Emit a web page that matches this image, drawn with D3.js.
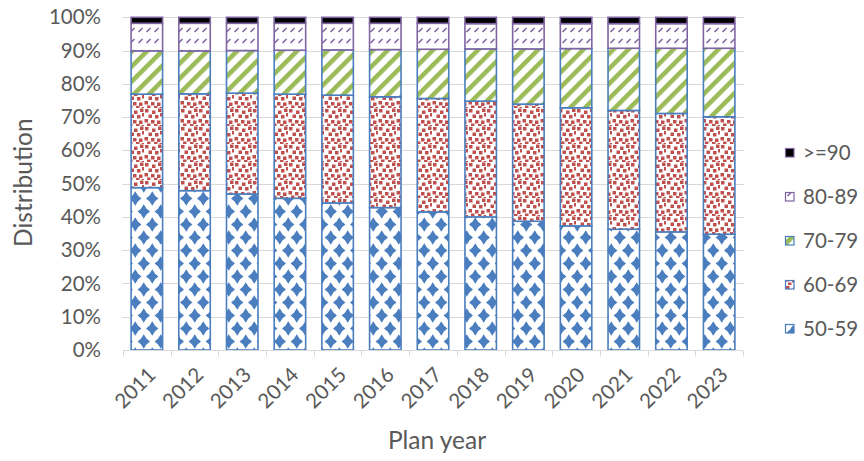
<!DOCTYPE html>
<html>
<head>
<meta charset="utf-8">
<script src="https://cdn.jsdelivr.net/npm/d3@7"></script>
<style>
  html, body { margin: 0; padding: 0; background: #fff; }
  svg { display: block; font-family: Lato, "Liberation Sans", sans-serif; }
</style>
</head>
<body>
<svg id="chart" width="864" height="461"></svg>
<script>
// Plan years on the x axis
const years = ["2011","2012","2013","2014","2015","2016","2017","2018","2019","2020","2021","2022","2023"];
// Age bands, bottom to top of each stacked bar
const bands = ["50-59","60-69","70-79","80-89",">=90"];
// Share of each age band per plan year (%)
const share5059 = [48.8, 47.9, 46.9, 45.6, 44.2, 42.8, 41.5, 40.0, 38.7, 37.3, 36.3, 35.5, 34.8];
const share6069 = [28.1, 29.1, 30.3, 31.3, 32.4, 33.3, 34.1, 34.8, 35.2, 35.5, 35.7, 35.6, 35.3];
const share7079 = [13.0, 12.9, 12.8, 13.2, 13.6, 14.2, 14.8, 15.7, 16.6, 17.8, 18.7, 19.6, 20.6];
const share8089 = [ 8.3,  8.3,  8.2,  8.1,  8.0,  7.9,  7.8,  7.6,  7.6,  7.5,  7.4,  7.4,  7.4];
const share90up = [ 1.8,  1.8,  1.8,  1.8,  1.8,  1.8,  1.8,  1.9,  1.9,  1.9,  1.9,  1.9,  1.9];
// Y axis tick values (%)
const yTicks = [0,10,20,30,40,50,60,70,80,90,100];

const rows = years.map((y, i) => ({
  year: y,
  "50-59": share5059[i],
  "60-69": share6069[i],
  "70-79": share7079[i],
  "80-89": share8089[i],
  ">=90": share90up[i]
}));

const svg = d3.select("#chart");
const plotL = 123, plotR = 743, plotT = 17.3, plotB = 350;

const x = d3.scaleBand().domain(years).range([plotL, plotR])
  .paddingInner(0.34).paddingOuter(0.17);
const y = d3.scaleLinear().domain([0, 100]).range([plotB, plotT]);

// ---- fill patterns ----
const defs = svg.append("defs");
const BLUE = "#4a7ebf", RED = "#c0504d", GREEN = "#9bbb59", PURPLE = "#8064a2";

// blue four-point stars on a staggered lattice
const SW = 17, SH = 26;
const pStar = defs.append("pattern").attr("id", "p5059")
  .attr("patternUnits", "userSpaceOnUse").attr("width", SW).attr("height", SH)
  .attr("x", 131).attr("y", 350 - 2);
pStar.append("rect").attr("width", SW).attr("height", SH).attr("fill", "#fff");
function star(cx, cy, rx, ry, r) {
  const pts = [];
  for (let k = 0; k < 8; k++) {
    const a = k * Math.PI / 4 - Math.PI / 2;
    const sx = k % 2 === 0 ? rx : r, sy = k % 2 === 0 ? ry : r;
    pts.push([cx + sx * Math.cos(a), cy + sy * Math.sin(a)]);
  }
  return "M" + pts.map(p => p.map(v => v.toFixed(2)).join(",")).join("L") + "Z";
}
const c1 = [4.25, 6.5], c2 = [4.25 + SW / 2, 6.5 + SH / 2];
[c1, c2].forEach(([cx, cy]) => {
  for (const dx of [-SW, 0, SW]) for (const dy of [-SH, 0, SH]) {
    pStar.append("path").attr("d", star(cx + dx, cy + dy, 6.2, 7.2, 4.0)).attr("fill", BLUE);
  }
});

// red confetti squares
const pConf = defs.append("pattern").attr("id", "p6069")
  .attr("patternUnits", "userSpaceOnUse").attr("width", 18).attr("height", 18);
pConf.append("rect").attr("width", 18).attr("height", 18).attr("fill", "#fff");
[[1,1],[8,2.5],[14,0.5],[4.5,6.5],[11,7],[16,5],[0.5,11],[7,12],[13,12.5],[3,15.5],[10,16],[15.5,17]]
  .forEach(([a, b]) => {
    pConf.append("rect").attr("x", a).attr("y", b).attr("width", 3.5).attr("height", 3.5).attr("fill", RED);
  });

// green wide upward diagonal stripes
const pDiag = defs.append("pattern").attr("id", "p7079")
  .attr("patternUnits", "userSpaceOnUse").attr("width", 10.6).attr("height", 10.6)
  .attr("patternTransform", "rotate(45)");
pDiag.append("rect").attr("width", 10.6).attr("height", 10.6).attr("fill", "#fff");
pDiag.append("rect").attr("width", 4.6).attr("height", 10.6).attr("fill", GREEN);

// purple dashed upward diagonals
const pDash = defs.append("pattern").attr("id", "p8089")
  .attr("patternUnits", "userSpaceOnUse").attr("width", 8).attr("height", 11)
  .attr("x", 1).attr("y", 0);
pDash.append("rect").attr("width", 8).attr("height", 11).attr("fill", "#fff");
pDash.append("line").attr("x1", 1.5).attr("y1", 10).attr("x2", 5.5).attr("y2", 6)
  .attr("stroke", PURPLE).attr("stroke-width", 1.6);

const fills = { "50-59": "url(#p5059)", "60-69": "url(#p6069)", "70-79": "url(#p7079)", "80-89": "url(#p8089)", ">=90": "#000" };
const strokes = { "50-59": BLUE, "60-69": BLUE, "70-79": BLUE, "80-89": PURPLE, ">=90": PURPLE };

// ---- gridlines ----
svg.append("g").selectAll("line").data(yTicks.filter(t => t > 0)).join("line")
  .attr("x1", plotL - 1).attr("x2", plotR + 1)
  .attr("y1", d => Math.round(y(d)) + 0.5).attr("y2", d => Math.round(y(d)) + 0.5)
  .attr("stroke", "#d9d9d9").attr("stroke-width", 1);

// ---- y axis labels ----
const yAxis = d3.axisLeft(y).tickValues(yTicks).tickFormat(d => d + "%").tickSize(0).tickPadding(22);
const gy = svg.append("g").attr("transform", `translate(${plotL},0)`).call(yAxis);
gy.select(".domain").remove();
gy.selectAll("text").attr("font-size", 20.5).attr("fill", "#595959")
  .attr("font-family", "Lato, sans-serif");

// ---- stacked bars ----
const stack = d3.stack().keys(bands)(rows);
svg.append("g").selectAll("g").data(stack).join("g")
  .selectAll("rect").data(s => s.map(d => ({ key: s.key, d }))).join("rect")
  .attr("x", o => x(o.d.data.year))
  .attr("width", x.bandwidth())
  .attr("y", o => y(o.d[1]))
  .attr("height", o => y(o.d[0]) - y(o.d[1]))
  .attr("fill", o => fills[o.key])
  .attr("stroke", o => strokes[o.key])
  .attr("stroke-width", 1.6);

// ---- x axis ----
const xAxis = d3.axisBottom(x).tickSize(0).tickFormat("");
const gx = svg.append("g").attr("transform", `translate(0,${plotB + 0.5})`).call(xAxis);
gx.select(".domain").attr("stroke", "#d9d9d9").attr("stroke-width", 1)
  .attr("d", `M${plotL},0H${plotR}`);
// category separator ticks
const sep = years.map(yr => x(yr) - x.step() * x.paddingInner() / 2);
sep[0] = plotL;
sep.push(plotR);
gx.selectAll(".sep").data(sep).join("line").attr("class", "sep")
  .attr("x1", d => Math.round(d) + 0.5).attr("x2", d => Math.round(d) + 0.5)
  .attr("y1", 0).attr("y2", 6).attr("stroke", "#d9d9d9");

// rotated year labels
svg.append("g").selectAll("text").data(years).join("text")
  .attr("transform", d => `translate(${x(d) + x.bandwidth() / 2 + 5},${plotB + 21}) rotate(-45)`)
  .attr("text-anchor", "end")
  .attr("dy", "0.35em")
  .attr("font-size", 20.5).attr("fill", "#595959")
  .text(d => d);

// ---- axis titles ----
svg.append("text")
  .attr("transform", `translate(32,${(plotT + plotB) / 2 - 1}) rotate(-90)`)
  .attr("text-anchor", "middle")
  .attr("font-size", 24.5).attr("fill", "#595959")
  .text("Distribution");
svg.append("text")
  .attr("x", 437).attr("y", 449)
  .attr("text-anchor", "middle")
  .attr("font-size", 24.5).attr("fill", "#595959")
  .text("Plan year");

// ---- legend (top band first) ----
const legendOrder = bands.slice().reverse();
const lg = svg.append("g").selectAll("g").data(legendOrder).join("g")
  .attr("transform", (d, i) => `translate(785,${153 + i * 44})`);
lg.append("rect").attr("x", 0.5).attr("y", -4.5).attr("width", 8.5).attr("height", 8.5)
  .attr("fill", d => fills[d]).attr("stroke", d => strokes[d]).attr("stroke-width", 1.2);
lg.append("text").attr("x", 18).attr("y", 0).attr("dy", "0.35em")
  .attr("font-size", 20.5).attr("fill", "#595959")
  .text(d => d);
</script>
</body>
</html>
